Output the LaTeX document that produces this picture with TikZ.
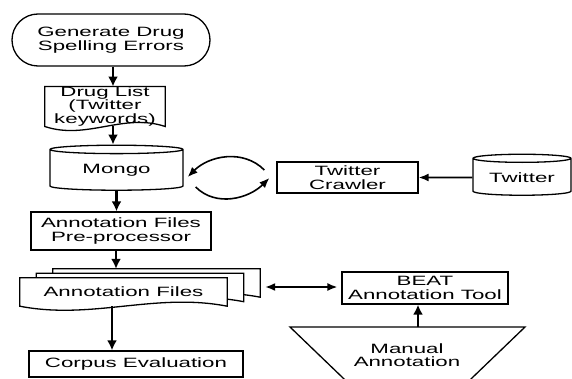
\documentclass[tikz,border=0pt]{standalone}
\usepackage{fontspec}
\setmainfont[FakeStretch=1.65]{Liberation Sans}
\usetikzlibrary{shapes.geometric,arrows.meta,backgrounds}

\begin{document}
\begin{tikzpicture}[x=1pt,y=1pt,
		every node/.style={font=\fontsize{13.5}{13.5}\selectfont, align=center, inner sep=1pt},
		box/.style={draw, line width=1.3pt, rectangle},
		doc/.style={rectangle, inner sep=0pt},
		db/.style={draw, line width=1.3pt, cylinder, shape border rotate=90, aspect=0.12},
		flow/.style={line width=2.3pt, -{Latex[length=10pt,width=10pt]}},
		link/.style={line width=1.6pt, -{Latex[length=10pt,width=8pt]}},
		both/.style={line width=1.6pt, {Latex[length=10pt,width=8pt]}-{Latex[length=10pt,width=8pt]}}]
		
		% frame
		\useasboundingbox (0,0) rectangle (572,378);
		\clip (0,0) rectangle (572,378);
		
		% left column
		\node[box, rounded corners=26pt, minimum width=198pt, minimum height=52pt] (gen) at (111,338) {Generate Drug\\Spelling Errors};
		\node[doc, minimum width=120pt, minimum height=37pt] (list) at (105,271.5) {Drug List\\(Twitter\\keywords)};
		\node[db, minimum width=133pt, minimum height=45pt] (mongo) at (116.5,207.5) {Mongo};
		\node[box, minimum width=180pt, minimum height=38pt] (pre) at (121,147) {Annotation Files\\Pre-processor};
		\node[doc, minimum width=207pt, minimum height=28pt] (files) at (123.5,86) {Annotation Files};
		\node[box, minimum width=214pt, minimum height=26pt] (corpus) at (136,14) {Corpus Evaluation};
		
		% right column
		\node[box, minimum width=141pt, minimum height=31pt] (crawler) at (347.5,200.5) {Twitter\\Crawler};
		\node[db, minimum width=98pt, minimum height=41pt] (twitter) at (522,200.5) {Twitter};
		\node[box, minimum width=166pt, minimum height=32pt] (beat) at (425,90) {BEAT\\Annotation Tool};
		
		% manual annotation
		\draw[line width=1.3pt] (290,51) -- (525,51) -- (407.5,-62) -- cycle;
		\node (manual) at (407,23) {Manual\\Annotation};
		\coordinate (mtop) at (418,51);
		
		% document outlines
		\begin{scope}[on background layer]
			\draw[line width=1.3pt] (list.north west) -- (list.north east) -- (list.south east) .. controls +(-42,14) and +(42,-14) .. (list.south west) -- cycle;
			\filldraw[fill=white, line width=1.3pt] ([shift={(33,9)}]files.north west) -- ([shift={(33,9)}]files.north east) -- ([shift={(33,9)}]files.south east) .. controls +(-72,14) and +(72,-14) .. ([shift={(33,9)}]files.south west) -- cycle;
			\filldraw[fill=white, line width=1.3pt] ([shift={(16.5,4.5)}]files.north west) -- ([shift={(16.5,4.5)}]files.north east) -- ([shift={(16.5,4.5)}]files.south east) .. controls +(-72,14) and +(72,-14) .. ([shift={(16.5,4.5)}]files.south west) -- cycle;
			\filldraw[fill=white, line width=1.3pt] (files.north west) -- (files.north east) -- (files.south east) .. controls +(-72,14) and +(72,-14) .. (files.south west) -- cycle;
		\end{scope}
		
		% arrows
		\draw[flow] ([xshift=2pt]gen.south) -- ([xshift=8pt]list.north);
		\draw[flow] ([xshift=8pt]list.south) -- ([xshift=-3.5pt]mongo.north);
		\draw[flow] (mongo.south) -- ([xshift=-4.5pt]pre.north);
		\draw[flow] ([xshift=-5pt]pre.south) -- ([xshift=-7.5pt,yshift=9pt]files.north);
		\draw[flow] ([xshift=-11.5pt]files.south) -- ([xshift=-24pt]corpus.north);
		\draw[link] (twitter.west) -- (crawler.east);
		\draw[both] ([shift={(38,5)}]files.east) -- ([shift={(-4,1)}]beat.west);
		\draw[flow] (mtop) -- (mtop |- beat.south);
		
		% crawler loop
		\draw[link] ([shift={(-12,7.5)}]crawler.west) to[out=135,in=45] ([shift={(4,-6.5)}]mongo.east);
		\draw[link] ([shift={(12,-16.5)}]mongo.east) to[out=-45,in=-135] ([shift={(-7,-0.5)}]crawler.west);
	\end{tikzpicture}
\end{document}
